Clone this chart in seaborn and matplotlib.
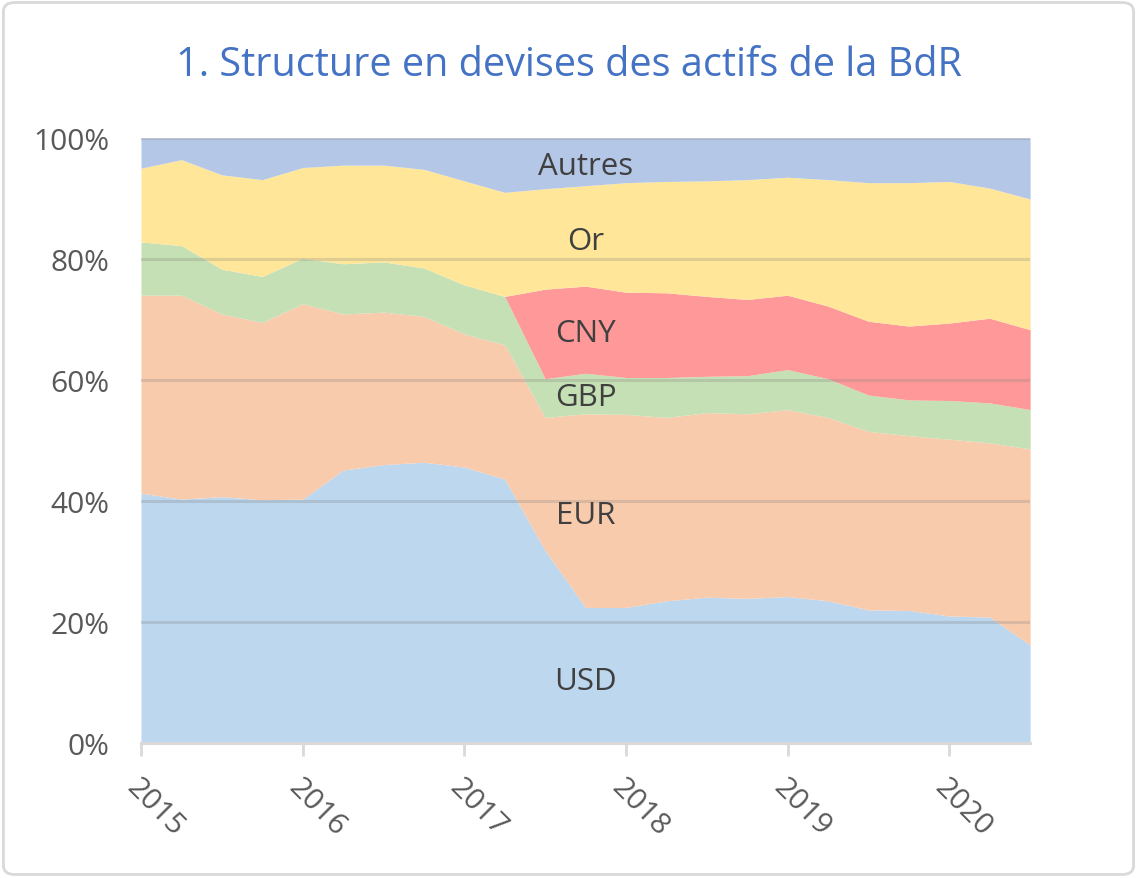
import numpy as np
import matplotlib
matplotlib.use("Agg")
import matplotlib.pyplot as plt
import seaborn as sns
from matplotlib.patches import FancyBboxPatch

# quarterly dates 2015Q1 -> 2020Q3
dates = [2015.00, 2015.25, 2015.50, 2015.75, 2016.00, 2016.25, 2016.50, 2016.75,
         2017.00, 2017.25, 2017.50, 2017.75, 2018.00, 2018.25, 2018.50, 2018.75,
         2019.00, 2019.25, 2019.50, 2019.75, 2020.00, 2020.25, 2020.50]

# shares in %
usd = [41.3, 40.3, 40.7, 40.2, 40.3, 45.1, 46.0, 46.4, 45.6, 43.6, 31.8, 22.4,
       22.4, 23.5, 24.1, 23.9, 24.2, 23.5, 22.0, 21.9, 21.0, 20.8, 16.2]
eur = [32.7, 33.7, 30.2, 29.3, 32.3, 25.8, 25.2, 24.1, 22.0, 22.2, 22.0, 32.0,
       31.9, 30.3, 30.5, 30.5, 30.9, 30.3, 29.5, 28.9, 29.2, 28.8, 32.4]
gbp = [8.8, 8.2, 7.4, 7.6, 7.5, 8.3, 8.3, 8.0, 8.1, 8.0, 6.4, 6.7,
       6.1, 6.6, 6.0, 6.3, 6.6, 6.4, 6.0, 5.9, 6.4, 6.6, 6.5]
cny = [0, 0, 0, 0, 0, 0, 0, 0, 0, 0, 14.8, 14.4,
       14.1, 14.0, 13.2, 12.6, 12.3, 12.0, 12.2, 12.2, 12.8, 14.0, 13.2]
gold = [12.2, 14.2, 15.6, 16.0, 15.0, 16.3, 16.0, 16.3, 17.2, 17.2, 16.6, 16.6,
        18.1, 18.4, 19.1, 19.8, 19.5, 20.9, 22.9, 23.7, 23.4, 21.5, 21.6]
autres = [5.0, 3.6, 6.1, 6.9, 4.9, 4.5, 4.5, 5.2, 7.1, 9.0, 8.4, 7.9,
          7.4, 7.2, 7.1, 6.9, 6.5, 6.9, 7.4, 7.4, 7.2, 8.3, 10.1]

names = ["USD", "EUR", "GBP", "CNY", "Or", "Autres"]
colors = ["#BDD7EE", "#F8CBAD", "#C5E0B4", "#FF9999", "#FFE699", "#B4C7E7"]
label_pos = [(2017.75, 10.9), (2017.75, 38.2), (2017.75, 57.7),
             (2017.75, 68.4), (2017.75, 83.6), (2017.75, 96.0)]

years = [2015, 2016, 2017, 2018, 2019, 2020]

sns.set_theme(style="white")
plt.rcParams["font.family"] = ["Open Sans", "DejaVu Sans"]

fig = plt.figure(figsize=(11.37, 8.79), dpi=100)
ax = fig.add_axes([0.124, 0.1536, 0.782, 0.6884])

ax.stackplot(dates, usd, eur, gbp, cny, gold, autres, colors=colors,
             linewidth=0, labels=names)

# gridlines drawn over the areas, like in the original
for y in [20, 40, 60, 80, 100]:
    ax.axhline(y, color="#7F7F7F", alpha=0.25, lw=2.2, zorder=3)

for name, (x, y) in zip(names, label_pos):
    ax.text(x, y, name, ha="center", va="center_baseline", fontsize=22.5,
            color="#404040", zorder=4)

ax.set_xlim(2015, 2020.5)
ax.set_ylim(0, 100)
ax.set_yticks([0, 20, 40, 60, 80, 100])
ax.set_yticklabels([f"{v}%" for v in [0, 20, 40, 60, 80, 100]],
                   fontsize=21.5, color="#595959")
ax.set_xticks(years)
ax.set_xticklabels([str(y) for y in years], fontsize=21.5, color="#595959",
                   rotation=-45, ha="left", va="top", rotation_mode="anchor")
ax.tick_params(axis="x", bottom=True, length=9, width=2, color="#D9D9D9", pad=12)
ax.tick_params(axis="y", left=False, pad=17)

for s in ["top", "right", "left"]:
    ax.spines[s].set_visible(False)
ax.spines["bottom"].set_color("#D9D9D9")
ax.spines["bottom"].set_linewidth(2.2)

fig.text(0.5, 0.925, "1. Structure en devises des actifs de la BdR",
         ha="center", va="center", fontsize=28.5, color="#4472C4")

border = FancyBboxPatch((0.003, 0.004), 0.994, 0.992,
                        boxstyle="round,pad=0,rounding_size=0.01",
                        transform=fig.transFigure, fill=False,
                        edgecolor="#D9D9D9", lw=2)
fig.patches.append(border)

fig.savefig("out.png", dpi=100)
